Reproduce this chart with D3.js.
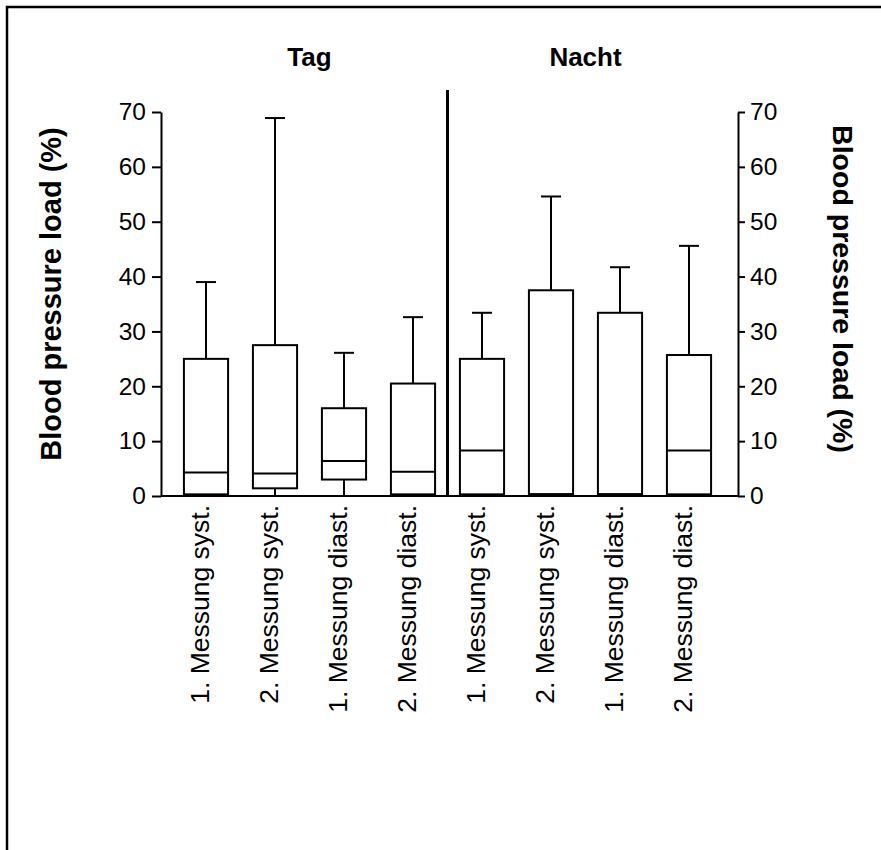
<html>
<head>
    <script src="https://cdn.jsdelivr.net/npm/d3@7"></script>
    <style>
        body { margin: 0; background: #fff; }
        text { font-family: "Liberation Sans", Arial, sans-serif; fill: #000; }
        .axis path, .axis line { stroke: #000; stroke-width: 2; }
        .axis text { font-size: 24.5px; }
    </style>
</head>
<body>
    <svg width="881" height="850" id="plot"></svg>
    <script>
        // categories (two groups of four)
        const labels = ["1. Messung syst.", "2. Messung syst.", "1. Messung diast.", "2. Messung diast.",
            "1. Messung syst.", "2. Messung syst.", "1. Messung diast.", "2. Messung diast."];
        const groups = ["Tag", "Nacht"];
        const groupOf = ["Tag", "Tag", "Tag", "Tag", "Nacht", "Nacht", "Nacht", "Nacht"];

        // box plot values (%)
        const whiskerLow = [0, 0, 0, 0, 0, 0, 0, 0];
        const q1 = [0.3, 1.4, 3.0, 0.3, 0.3, 0.3, 0.3, 0.3];
        const median = [4.3, 4.1, 6.4, 4.4, 8.3, 0.3, 0.3, 8.3];
        const q3 = [25.0, 27.5, 16.0, 20.5, 25.0, 37.5, 33.4, 25.7];
        const whiskerHigh = [39.0, 68.9, 26.1, 32.6, 33.4, 54.6, 41.7, 45.6];

        const yTicks = [0, 10, 20, 30, 40, 50, 60, 70];
        const yTitle = "Blood pressure load (%)";

        const svg = d3.select("#plot");

        // frame (only top and left edges are inside the picture)
        svg.append("rect").attr("x", 7).attr("y", 7).attr("width", 1000).attr("height", 1000)
            .attr("fill", "none").attr("stroke", "#000").attr("stroke-width", 2.5);

        const axisLeftX = 161, axisRightX = 738;
        const yScale = d3.scaleLinear().domain([0, 70]).range([496, 112]);
        const xScale = d3.scaleBand().domain(d3.range(labels.length))
            .range([171.5, 723.5]).paddingInner(0.36).paddingOuter(0.18);
        const bw = xScale.bandwidth();
        const cx = i => xScale(i) + bw / 2;

        // y axes
        svg.append("g").attr("class", "axis").attr("transform", `translate(${axisLeftX},0)`)
            .call(d3.axisLeft(yScale).tickValues(yTicks).tickSize(9).tickSizeOuter(0).tickPadding(6));
        svg.append("g").attr("class", "axis").attr("transform", `translate(${axisRightX},0)`)
            .call(d3.axisRight(yScale).tickValues(yTicks).tickSize(7).tickSizeOuter(0).tickPadding(5));

        // x axis baseline
        svg.append("line").attr("x1", axisLeftX).attr("x2", axisRightX)
            .attr("y1", yScale(0)).attr("y2", yScale(0))
            .attr("stroke", "#000").attr("stroke-width", 2);

        // axis titles
        svg.append("text").attr("transform", "translate(51,294) rotate(-90)")
            .attr("text-anchor", "middle").attr("dy", "0.35em")
            .style("font-size", "29px").style("font-weight", "bold").text(yTitle);
        svg.append("text").attr("transform", "translate(843,289) rotate(90)")
            .attr("text-anchor", "middle").attr("dy", "0.35em")
            .style("font-size", "28.5px").style("font-weight", "bold").text(yTitle);

        // group titles and separator
        groups.forEach(g => {
            const idx = d3.range(labels.length).filter(i => groupOf[i] === g);
            const mid = (cx(idx[0]) + cx(idx[idx.length - 1])) / 2;
            svg.append("text").attr("x", mid).attr("y", 66).attr("text-anchor", "middle")
                .style("font-size", "26px").style("font-weight", "bold").text(g);
        });
        const sepX = (cx(3) + cx(4)) / 2;
        svg.append("line").attr("x1", sepX).attr("x2", sepX).attr("y1", 90).attr("y2", yScale(0))
            .attr("stroke", "#000").attr("stroke-width", 3);

        // boxes
        const chart = svg.append("g");
        const capW = 20;
        labels.forEach((lab, i) => {
            const g = chart.append("g").attr("stroke", "#000").attr("stroke-width", 2).attr("fill", "none");
            // whiskers
            g.append("line").attr("x1", cx(i)).attr("x2", cx(i))
                .attr("y1", yScale(q3[i])).attr("y2", yScale(whiskerHigh[i]));
            g.append("line").attr("x1", cx(i) - capW / 2).attr("x2", cx(i) + capW / 2)
                .attr("y1", yScale(whiskerHigh[i])).attr("y2", yScale(whiskerHigh[i]));
            g.append("line").attr("x1", cx(i)).attr("x2", cx(i))
                .attr("y1", yScale(q1[i])).attr("y2", yScale(whiskerLow[i]));
            // box
            g.append("rect").attr("x", xScale(i)).attr("width", bw)
                .attr("y", yScale(q3[i])).attr("height", yScale(q1[i]) - yScale(q3[i]))
                .attr("fill", "#fff");
            // median
            g.append("line").attr("x1", xScale(i)).attr("x2", xScale(i) + bw)
                .attr("y1", yScale(median[i])).attr("y2", yScale(median[i]));
        });

        // category labels
        labels.forEach((lab, i) => {
            svg.append("text")
                .attr("transform", `translate(${cx(i)},${yScale(0) + 9}) rotate(-90)`)
                .attr("text-anchor", "end").attr("dy", "0.12em")
                .style("font-size", "26.5px").text(lab);
        });
    </script>
</body>
</html>
